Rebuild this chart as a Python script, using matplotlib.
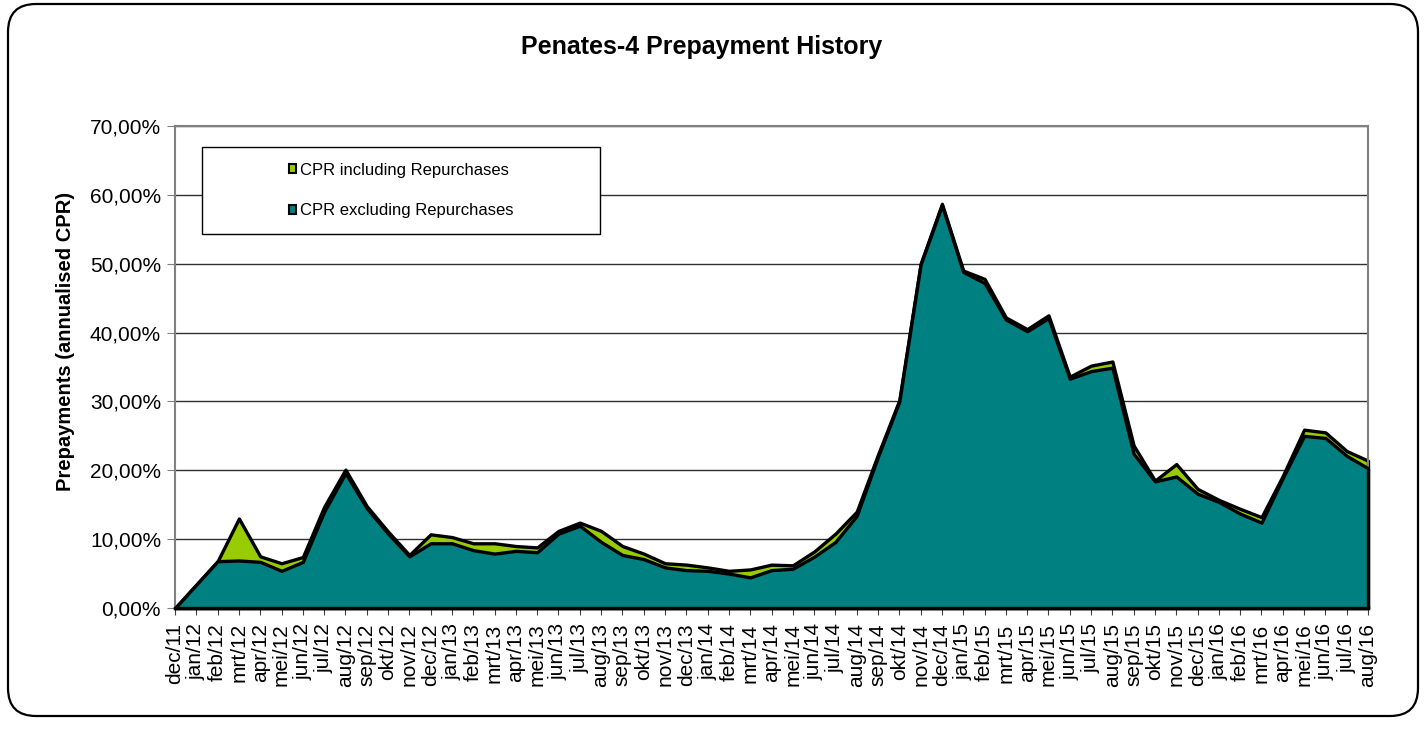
import matplotlib
matplotlib.use('Agg')
import matplotlib.pyplot as plt
from matplotlib.patches import FancyBboxPatch, Rectangle, Patch
from matplotlib.ticker import FuncFormatter, MultipleLocator

plt.rcParams['font.family'] = ['Liberation Sans', 'DejaVu Sans']

# month labels (Dutch abbreviations as in the source)
months = ['dec/11',
          'jan/12', 'feb/12', 'mrt/12', 'apr/12', 'mei/12', 'jun/12',
          'jul/12', 'aug/12', 'sep/12', 'okt/12', 'nov/12', 'dec/12',
          'jan/13', 'feb/13', 'mrt/13', 'apr/13', 'mei/13', 'jun/13',
          'jul/13', 'aug/13', 'sep/13', 'okt/13', 'nov/13', 'dec/13',
          'jan/14', 'feb/14', 'mrt/14', 'apr/14', 'mei/14', 'jun/14',
          'jul/14', 'aug/14', 'sep/14', 'okt/14', 'nov/14', 'dec/14',
          'jan/15', 'feb/15', 'mrt/15', 'apr/15', 'mei/15', 'jun/15',
          'jul/15', 'aug/15', 'sep/15', 'okt/15', 'nov/15', 'dec/15',
          'jan/16', 'feb/16', 'mrt/16', 'apr/16', 'mei/16', 'jun/16',
          'jul/16', 'aug/16']

# CPR including repurchases (%)
cpr_incl = [0.0,
            3.4, 6.8, 13.0, 7.5, 6.5, 7.4,
            14.7, 20.1, 14.8, 11.1, 7.7, 10.7,
            10.3, 9.4, 9.4, 9.0, 8.8, 11.2,
            12.4, 11.2, 9.0, 7.9, 6.5, 6.3,
            5.9, 5.4, 5.6, 6.3, 6.2, 8.2,
            10.8, 14.0, 22.3, 30.2, 50.0, 58.7,
            49.0, 47.8, 42.2, 40.5, 42.5, 33.6,
            35.2, 35.8, 23.6, 18.5, 20.9, 17.3,
            15.7, 14.4, 13.2, 19.2, 25.9, 25.5,
            22.8, 21.4]

# CPR excluding repurchases (%)
cpr_excl = [0.0,
            3.4, 6.8, 6.9, 6.7, 5.4, 6.7,
            14.0, 19.6, 14.5, 10.8, 7.5, 9.4,
            9.4, 8.4, 7.9, 8.3, 8.1, 10.8,
            11.95, 9.6, 7.7, 7.1, 5.9, 5.5,
            5.4, 5.0, 4.45, 5.5, 5.7, 7.45,
            9.6, 13.4, 22.0, 30.0, 49.9, 58.5,
            48.8, 47.2, 41.9, 40.2, 42.1, 33.3,
            34.4, 34.9, 22.4, 18.4, 19.1, 16.6,
            15.4, 13.7, 12.4, 18.9, 25.0, 24.7,
            22.1, 20.3]

green = '#99CC00'
teal = '#008080'

W, H = 1426, 729
fig = plt.figure(figsize=(W / 100, H / 100), dpi=100)

# outer rounded frame
frame = FancyBboxPatch((0.08, 0.13), 14.10, 7.12,
                       boxstyle='round,pad=0,rounding_size=0.28',
                       transform=fig.dpi_scale_trans,
                       facecolor='white', edgecolor='black', lw=1.6, zorder=-1)
fig.add_artist(frame)

left, right, top, bottom = 175, 1368, 126, 608
ax = fig.add_axes([left / W, 1 - bottom / H, (right - left) / W, (bottom - top) / H])

x = list(range(len(months)))
ax.fill_between(x, cpr_incl, color=green, edgecolor='black', lw=2.4,
                zorder=2, clip_on=False)
ax.fill_between(x, cpr_excl, color=teal, edgecolor='black', lw=2.4,
                zorder=3, clip_on=False)

ax.set_xlim(0, len(months) - 1)
ax.set_ylim(0, 70)
ax.yaxis.set_major_locator(MultipleLocator(10))
ax.yaxis.set_major_formatter(FuncFormatter(lambda v, p: f'{v:.2f}%'.replace('.', ',')))
ax.set_xticks(x)
ax.set_xticklabels(months, rotation=90, fontsize=15)
ax.tick_params(axis='y', labelsize=15, direction='out', length=6,
               color='#808080', pad=4)
ax.tick_params(axis='x', direction='out', length=5, color='#404040', pad=6)

ax.set_axisbelow(True)
ax.yaxis.grid(True, color='#303030', lw=1.0)
for s in ['top', 'right', 'left']:
    ax.spines[s].set_color('#808080')
    ax.spines[s].set_linewidth(1.5)
ax.spines['bottom'].set_color('black')
ax.spines['bottom'].set_linewidth(2.5)

# legend box
ax.add_patch(Rectangle(((202 - left) / (right - left), (bottom - 234) / (bottom - top)),
                       398 / (right - left), 87 / (bottom - top),
                       transform=ax.transAxes, facecolor='white',
                       edgecolor='black', lw=1.0, zorder=5))
handles = [Patch(facecolor=green, edgecolor='black', lw=1.5),
           Patch(facecolor=teal, edgecolor='black', lw=1.5)]
leg = ax.legend(handles, ['CPR including Repurchases', 'CPR excluding Repurchases'],
                loc='center', bbox_to_anchor=((401 - left) / (right - left),
                                              (bottom - 190.5) / (bottom - top)),
                frameon=False, fontsize=12, handlelength=0.45, handleheight=0.45,
                handletextpad=0.2, labelspacing=1.55)
leg.set_zorder(6)

fig.text(702 / W, 1 - 47 / H, 'Penates-4 Prepayment History', ha='center',
         va='center', fontsize=18, fontweight='bold')
fig.text(66 / W, 1 - 341 / H, 'Prepayments (annualised CPR)', ha='center',
         va='center', rotation=90, fontsize=14.5, fontweight='bold')

plt.savefig('out.png', dpi=100)
plt.close()
